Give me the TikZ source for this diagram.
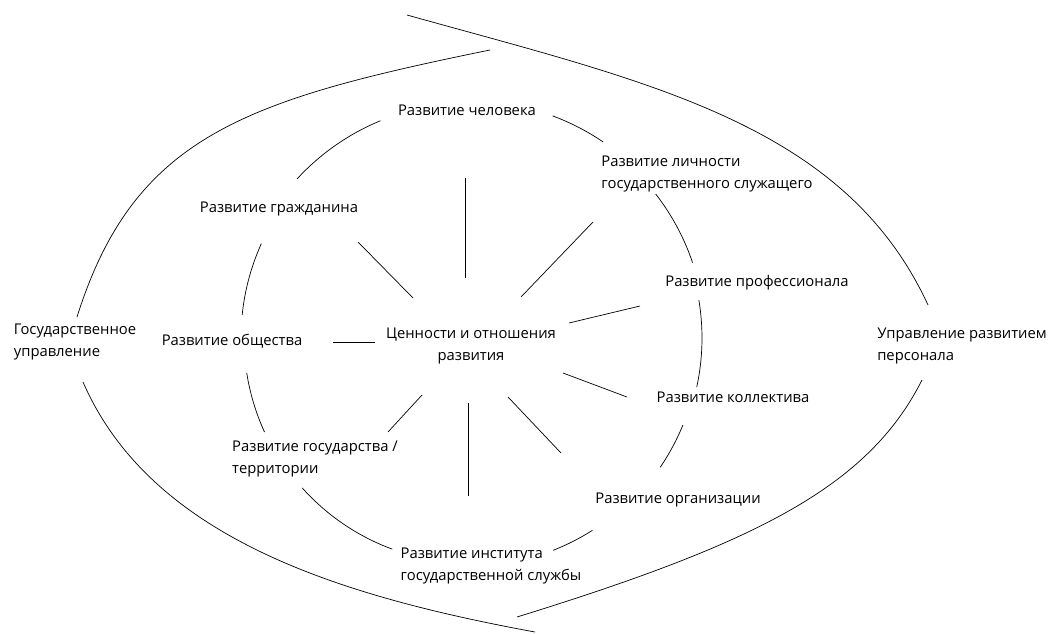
\documentclass[tikz,border=0pt]{standalone}
\usepackage{fontspec}
\setmainfont{Open Sans}
\usetikzlibrary{positioning}

\tikzset{lbl/.style={align=left, inner sep=0pt, font=\fontsize{14.8}{22}\selectfont}}

\begin{document}
\begin{tikzpicture}[x=1pt, y=1pt, line width=0.7pt]
\useasboundingbox (0,0) rectangle (1049,-634);

% labels
\node[lbl] (hum) at (467,-110) {Развитие человека};
\node[lbl] (pers) at (707,-174) {Развитие личности\\государственного служащего};
\node[lbl] (cit) at (279,-209) {Развитие гражданина};
\node[lbl] (prof) at (757,-283) {Развитие профессионала};
\node[lbl] (gov) at (75,-342) {Государственное\\управление};
\node[lbl] (soc) at (232,-341) {Развитие общества};
\node[lbl, align=center] (val) at (471,-346) {Ценности и отношения\\развития};
\node[lbl] (hrm) at (962,-346) {Управление развитием\\персонала};
\node[lbl] (team) at (733,-397) {Развитие коллектива};
\node[lbl] (state) at (315,-459) {Развитие государства /\\территории};
\node[lbl] (org) at (678,-500) {Развитие организации};
\node[lbl] (inst) at (491,-566) {Развитие института\\государственной службы};

% outer arcs
\draw (490,-50) .. controls (245,-100) and (134,-136) .. (77,-317);
\draw (83,-382) .. controls (151,-538) and (339,-596) .. (535,-632);
\draw (407,-15) .. controls (647,-82) and (844,-123) .. (928,-305);
\draw (922,-380) .. controls (868,-487) and (756,-543) .. (517,-617);

% inner circle
\coordinate (ctr) at (470,-338);
\foreach \a/\b/\r in {69.6/55.8/237, 37.8/18.7/235, 9.4/-12.2/232, -22.2/-34.2/230,
  -57.5/-68.6/228, -110.2/-138.2/225, -155.4/-171.1/226, 174.2/155.7/229, 137.4/112.4/235}
  \draw ([shift={(\a:\r)}]ctr) arc[start angle=\a, end angle=\b, radius=\r];

% spokes
\draw (val) ++(-6,68) -- ++(0,100);
\draw (val) ++(50,49) -- ++(72,75);
\draw (val) ++(-58,48) -- ++(-55,56);
\draw (val) ++(-96,4) -- ++(-42,0);
\draw (val) ++(98,23) -- ++(71,17);
\draw (val) ++(92,-27) -- ++(64,-24);
\draw (val) ++(37,-51) -- ++(53,-56);
\draw (val) ++(-3,-57) -- ++(0,-93);
\draw (val) ++(-49,-49) -- ++(-34,-37);
\end{tikzpicture}
\end{document}
